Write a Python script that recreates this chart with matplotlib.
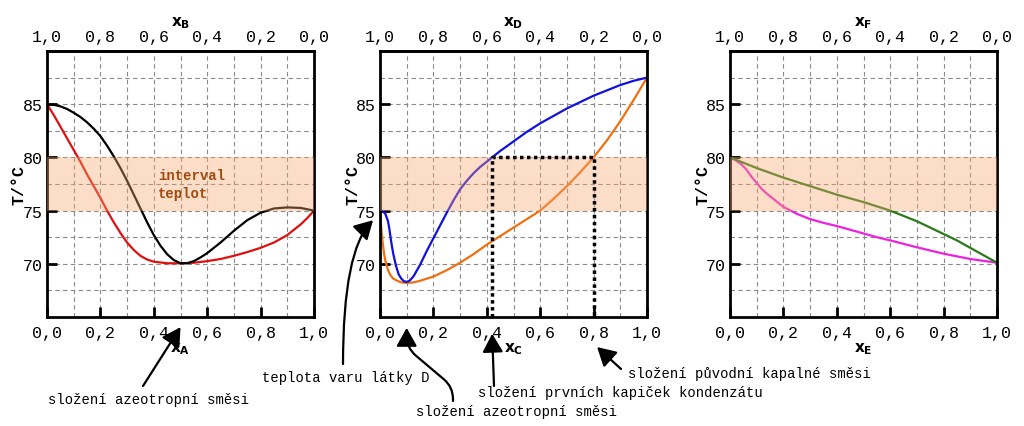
import numpy as np
import matplotlib.pyplot as plt
from matplotlib.ticker import MultipleLocator, FuncFormatter

plt.rcParams['font.family'] = ['Liberation Mono', 'DejaVu Sans Mono']
plt.rcParams['mathtext.fontset'] = 'dejavusans'

# Panel 1: azeotrop (A/B) - kapalina (cervena) a para (cerna)
x1_liq = [0, 0.025, 0.05, 0.075, 0.1, 0.125, 0.15, 0.175, 0.2, 0.225, 0.25, 0.275,
          0.3, 0.325, 0.35, 0.375, 0.4, 0.45, 0.5, 0.55, 0.6, 0.65, 0.7, 0.75,
          0.8, 0.85, 0.9, 0.925, 0.95, 0.975, 1.0]
t1_liq = [85, 84.0, 82.9, 81.8, 80.7, 79.6, 78.4, 77.3, 76.2, 75.0, 73.9, 72.9,
          72.0, 71.3, 70.75, 70.4, 70.2, 70.05, 70.05, 70.1, 70.25, 70.45, 70.75, 71.1,
          71.5, 72.0, 72.7, 73.2, 73.7, 74.3, 75.0]
x1_vap = [0, 0.025, 0.05, 0.075, 0.1, 0.125, 0.15, 0.175, 0.2, 0.225, 0.25, 0.275,
          0.3, 0.325, 0.35, 0.375, 0.4, 0.425, 0.45, 0.475, 0.5, 0.525, 0.55, 0.575,
          0.6, 0.65, 0.7, 0.75, 0.8, 0.85, 0.9, 0.95, 1.0]
t1_vap = [85, 84.95, 84.8, 84.55, 84.2, 83.8, 83.3, 82.7, 82.0, 81.1, 80.1, 79.0,
          77.8, 76.5, 75.2, 73.9, 72.7, 71.7, 70.9, 70.35, 70.05, 70.05, 70.25, 70.6,
          71.0, 72.0, 73.1, 74.1, 74.8, 75.2, 75.3, 75.25, 75.0]

# Panel 2: C/D - para (modra) a kapalina (oranzova)
x2_vap = [0, 0.01, 0.02, 0.03, 0.035, 0.04, 0.045, 0.05, 0.06, 0.07, 0.08, 0.09,
          0.1, 0.11, 0.125, 0.15, 0.175, 0.2, 0.225, 0.25, 0.275, 0.3, 0.325, 0.35,
          0.375, 0.4, 0.42, 0.45, 0.5, 0.55, 0.6, 0.65, 0.7, 0.75, 0.8, 0.85, 0.9,
          0.95, 1.0]
t2_vap = [75, 74.95, 74.7, 74.0, 73.3, 72.4, 71.6, 70.9, 69.8, 69.0, 68.6, 68.35,
          68.3, 68.4, 68.8, 69.9, 71.2, 72.4, 73.6, 74.8, 75.95, 77.0, 77.8, 78.5,
          79.1, 79.6, 80.0, 80.6, 81.5, 82.4, 83.2, 83.9, 84.6, 85.2, 85.8, 86.3, 86.8,
          87.2, 87.5]
x2_liq = [0, 0.003, 0.006, 0.01, 0.015, 0.02, 0.03, 0.04, 0.05, 0.065, 0.08, 0.1,
          0.125, 0.15, 0.2, 0.25, 0.3, 0.35, 0.4, 0.45, 0.5, 0.55, 0.6, 0.65, 0.7,
          0.75, 0.8, 0.85, 0.9, 0.95, 1.0]
t2_liq = [75, 74.0, 73.0, 72.0, 71.0, 70.3, 69.4, 68.9, 68.6, 68.4, 68.25, 68.2,
          68.25, 68.4, 68.8, 69.4, 70.1, 70.9, 71.8, 72.6, 73.4, 74.2, 75.0, 76.1, 77.3,
          78.6, 80.0, 81.6, 83.4, 85.4, 87.5]
x_kondenzat = 0.42
x_puvodni = 0.8
t_var = 80

# Panel 3: E/F - para (zelena) a kapalina (purpurova)
x3_vap = [0, 0.1, 0.2, 0.3, 0.4, 0.5, 0.6, 0.7, 0.8, 0.85, 0.9, 0.95, 1.0]
t3_vap = [80, 79.0, 78.1, 77.3, 76.5, 75.8, 75.0, 74.0, 72.8, 72.2, 71.5, 70.8, 70.1]
x3_liq = [0, 0.02, 0.04, 0.06, 0.08, 0.1, 0.12, 0.14, 0.16, 0.18, 0.2, 0.25, 0.3,
          0.35, 0.4, 0.45, 0.5, 0.55, 0.6, 0.7, 0.8, 0.9, 1.0]
t3_liq = [80, 79.75, 79.4, 78.9, 78.2, 77.6, 77.0, 76.55, 76.15, 75.75, 75.35, 74.7, 74.2,
          73.85, 73.55, 73.2, 72.85, 72.5, 72.2, 71.55, 70.95, 70.45, 70.1]

band = (75, 80)
ticks = [0, 0.2, 0.4, 0.6, 0.8, 1.0]
comma = FuncFormatter(lambda v, p: f'{v:.1f}'.replace('.', ','))

fig = plt.figure(figsize=(10.24, 4.27), dpi=100)
lefts = [47, 380, 730]
axes = []
for L in lefts:
    ax = fig.add_axes([L / 1024, 109 / 427, 267 / 1024, 266 / 427])
    axes.append(ax)

labels = [('A', 'B'), ('C', 'D'), ('E', 'F')]
for ax, (lb, lt) in zip(axes, labels):
    ax.set_xlim(0, 1)
    ax.set_ylim(65, 90)
    ax.set_xticks(ticks)
    ax.xaxis.set_minor_locator(MultipleLocator(0.1))
    ax.set_yticks([70, 75, 80, 85])
    ax.yaxis.set_minor_locator(MultipleLocator(2.5))
    ax.xaxis.set_major_formatter(comma)
    ax.grid(which='both', color='#8a8a8a', linestyle=(0, (4, 3)), linewidth=0.8, zorder=1)
    ax.tick_params(which='major', direction='in', length=7, width=2, labelsize=12)
    ax.tick_params(which='minor', length=0)
    ax.tick_params(axis='x', pad=6)
    ax.tick_params(axis='y', pad=3)
    for s in ax.spines.values():
        s.set_linewidth(2)
    ax.axhspan(*band, color='#f9a66c', alpha=0.38, lw=0, zorder=3)
    ax.set_xlabel(rf'$\mathbf{{x_{lb}}}$', fontsize=11, labelpad=0)
    ax.set_ylabel('T/°C', fontsize=12, fontweight='bold', labelpad=-3)
    sec = ax.secondary_xaxis('top', functions=(lambda v: 1 - v, lambda v: 1 - v))
    sec.set_xticks(ticks)
    sec.xaxis.set_major_formatter(comma)
    sec.tick_params(length=0, labelsize=12, pad=5)
    sec.spines['top'].set_linewidth(2)
    sec.set_xlabel(rf'$\mathbf{{x_{lt}}}$', fontsize=11, labelpad=3)

ax1, ax2, ax3 = axes
ax1.plot(x1_liq, t1_liq, color='#e01010', lw=1.6, zorder=2)
ax1.plot(x1_vap, t1_vap, color='black', lw=1.6, zorder=2)
ax1.text(0.415, 77.5, 'interval\nteplot', color='#a04a10', fontsize=10,
         fontweight='bold', va='center', ha='left', zorder=5, linespacing=1.3)

ax2.plot(x2_liq, t2_liq, color='#f07010', lw=1.6, zorder=2)
ax2.plot(x2_vap, t2_vap, color='#1010e0', lw=1.6, zorder=2)
ax2.plot([x_kondenzat, x_kondenzat, x_puvodni, x_puvodni], [65, t_var, t_var, 65],
         color='black', lw=2.5, linestyle=(0, (1, 1)), zorder=4)

ax3.plot(x3_liq, t3_liq, color='#ee22dd', lw=1.6, zorder=2)
ax3.plot(x3_vap, t3_vap, color='#2a7a1a', lw=1.6, zorder=2)

aprops = dict(arrowstyle='-|>,head_length=0.8,head_width=0.45', color='black',
              lw=1.6, mutation_scale=14, shrinkA=0, shrinkB=0)
fs = 10

ax1.annotate('', xy=(0.5, -0.038), xycoords=('data', 'axes fraction'),
             xytext=(143, 40), textcoords='figure pixels',
             arrowprops=aprops, annotation_clip=False)
fig.text(149 / 1024, 1 - 400 / 427, 'složení azeotropní směsi', fontsize=fs,
         ha='center', va='center')

ax2.annotate('', xy=(-0.026, 74.1), xycoords='data',
             xytext=(343, 62), textcoords='figure pixels',
             arrowprops=dict(aprops, connectionstyle='angle3,angleA=90,angleB=45'),
             annotation_clip=False)
fig.text(346 / 1024, 1 - 378 / 427, 'teplota varu látky D', fontsize=fs,
         ha='center', va='center')

ax2.annotate('', xy=(0.1, -0.041), xycoords=('data', 'axes fraction'),
             xytext=(453, 25), textcoords='figure pixels',
             arrowprops=dict(aprops, connectionstyle='arc,angleA=90,armA=14,angleB=-90,armB=20,rad=12'),
             annotation_clip=False)
fig.text(517 / 1024, 1 - 412 / 427, 'složení azeotropní směsi', fontsize=fs,
         ha='center', va='center')

ax2.annotate('', xy=(x_kondenzat, -0.063), xycoords=('data', 'axes fraction'),
             xytext=(494, 40), textcoords='figure pixels',
             arrowprops=aprops, annotation_clip=False)
fig.text(620 / 1024, 1 - 393 / 427, 'složení prvních kapiček kondenzátu', fontsize=fs,
         ha='center', va='center')

ax2.annotate('', xy=(0.813, -0.113), xycoords=('data', 'axes fraction'),
             xytext=(621, 57), textcoords='figure pixels',
             arrowprops=aprops, annotation_clip=False)
fig.text(749 / 1024, 1 - 374 / 427, 'složení původní kapalné směsi', fontsize=fs,
         ha='center', va='center')

fig.savefig('out.png', dpi=100)
